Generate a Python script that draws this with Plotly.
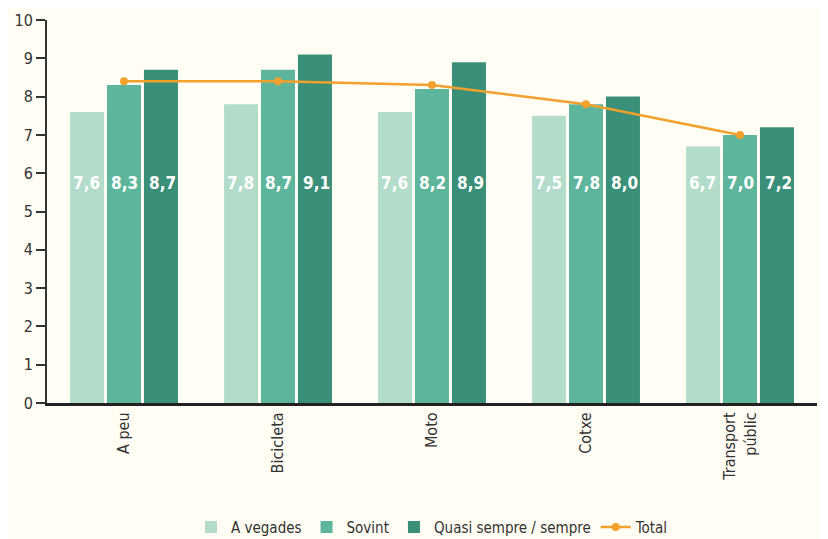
import plotly.graph_objects as go

categories = ["A peu", "Bicicleta", "Moto", "Cotxe", "Transport<br>públic"]
a_vegades = [7.6, 7.8, 7.6, 7.5, 6.7]
sovint = [8.3, 8.7, 8.2, 7.8, 7.0]
quasi_sempre = [8.7, 9.1, 8.9, 8.0, 7.2]
total = [8.4, 8.4, 8.3, 7.8, 7.0]
y_ticks = list(range(0, 11))

colors = ["#b4dccb", "#5db59c", "#3a8f78"]
bg = "#fffdf4"

fig = go.Figure()
series = [("A vegades", a_vegades), ("Sovint", sovint), ("Quasi sempre / sempre", quasi_sempre)]
for (name, vals), c in zip(series, colors):
    fig.add_bar(x=categories, y=vals, name=name, marker=dict(color=c, line=dict(width=0)))

fig.add_scatter(x=categories, y=total, name="Total", mode="lines+markers",
                line=dict(color="#f2a12c", width=2.5),
                marker=dict(color="#f2a12c", size=8))

shifts = [-38, 0, 38]
for (name, vals), s in zip(series, shifts):
    for cat, v in zip(categories, vals):
        fig.add_annotation(x=cat, y=5.75, text=f"{v:.1f}".replace(".", ","),
                           xshift=s, showarrow=False,
                           font=dict(color="white", size=17, family="DejaVu Sans Condensed, DejaVu Sans",
                                     weight="bold"))

fig.update_layout(
    width=820, height=531,
    paper_bgcolor=bg, plot_bgcolor=bg,
    margin=dict(l=39, r=11, t=12, b=136, autoexpand=False),
    barmode="group", bargap=0.28, bargroupgap=0.08,
    font=dict(family="DejaVu Sans Condensed, DejaVu Sans", color="#333333", size=15),
    legend=dict(orientation="h", x=0.5, xanchor="center", xref="paper",
                y=0.022, yanchor="middle", yref="container",
                font=dict(size=15), traceorder="normal", itemwidth=30),
    showlegend=True,
)
fig.update_yaxes(range=[0, 10], tickvals=y_ticks, showgrid=False, zeroline=False,
                 showline=True, linecolor="#333333", linewidth=2, automargin=False,
                 ticks="outside", ticklen=9, tickwidth=2, tickcolor="#333333",
                 tickfont=dict(size=16))
fig.update_xaxes(showline=True, linecolor="#222222", linewidth=3, tickangle=-90,
                 automargin=False, ticks="", showgrid=False, tickfont=dict(size=16))

fig.write_html("out.html")
